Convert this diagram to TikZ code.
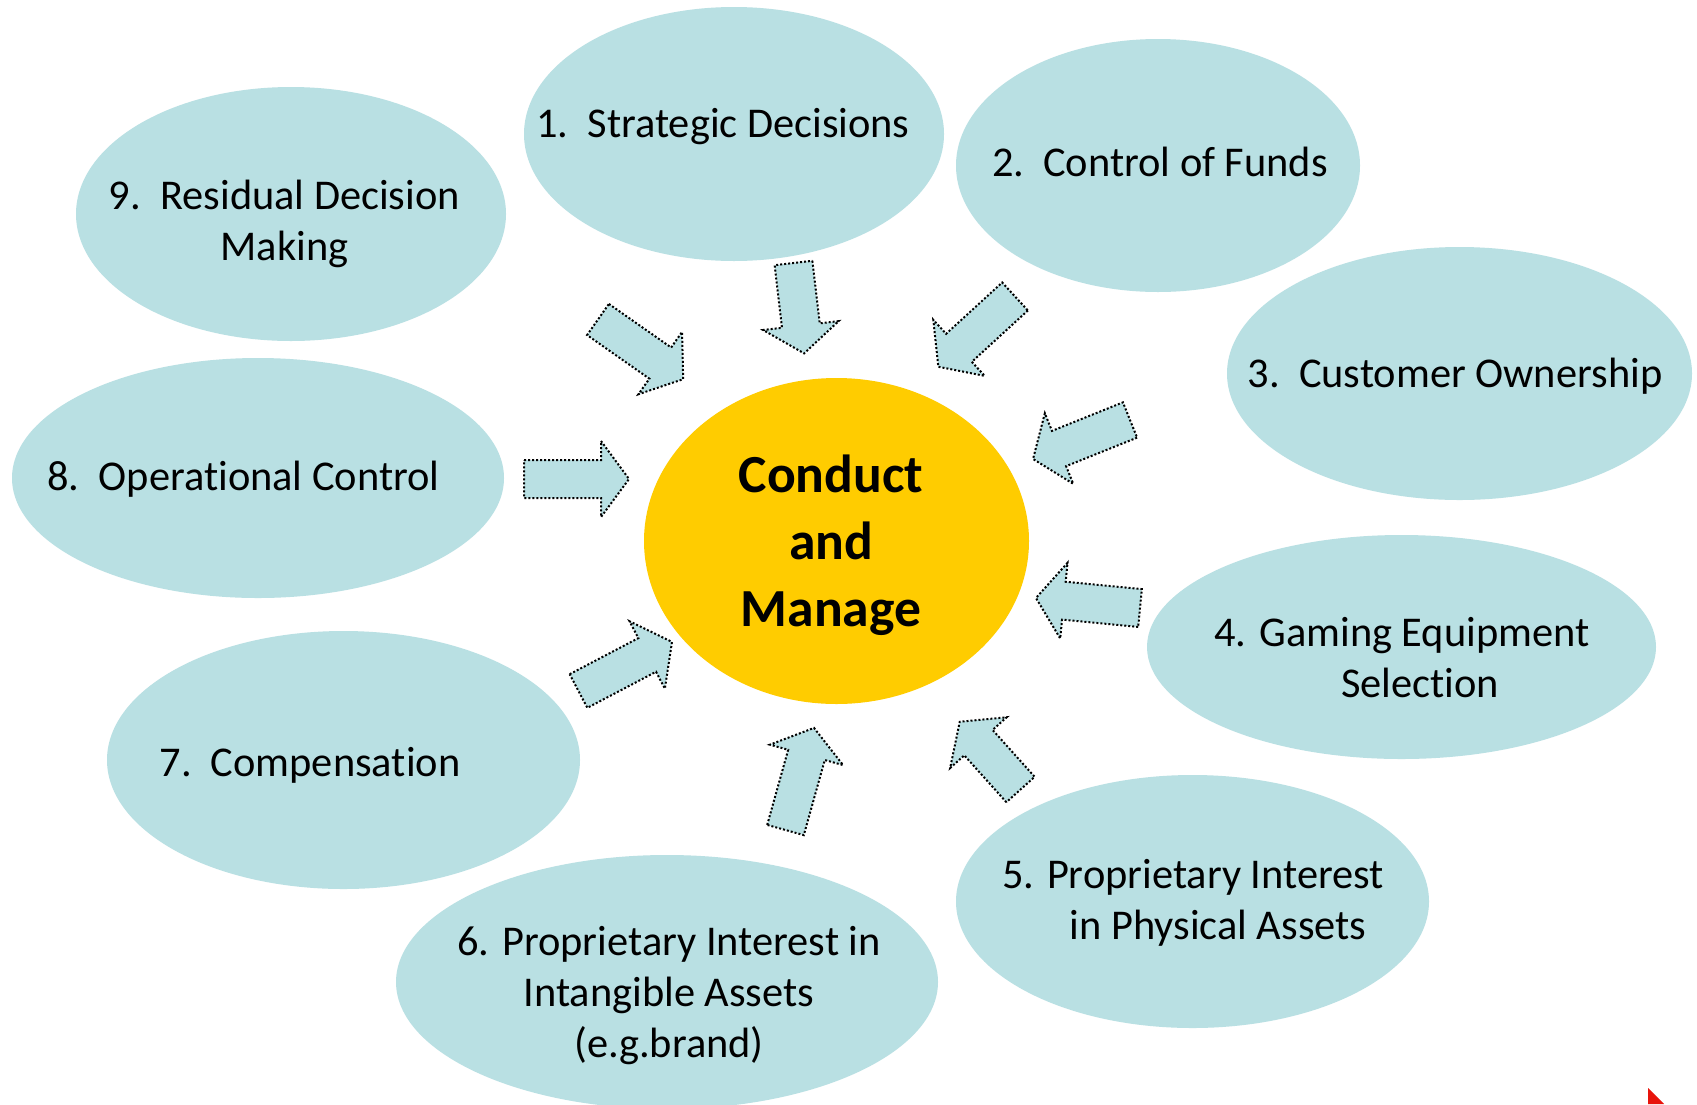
\documentclass[tikz,border=0pt]{standalone}
\usepackage{fontspec}
\setmainfont[RawFeature={-liga;-clig;-calt;-dlig}]{Carlito}
\usetikzlibrary{shapes.geometric}
\definecolor{BubbleTeal}{HTML}{B9E0E3}
\definecolor{CoreGold}{HTML}{FFCC00}
\definecolor{CornerRed}{HTML}{E8140C}

\begin{document}
\begin{tikzpicture}[x=0.5pt,y=-0.5pt,
    bubble/.style={ellipse,fill=BubbleTeal,inner sep=0pt},
    caption/.style={align=center,inner sep=0pt,text=black,
      font=\fontsize{21.2}{25.5}\selectfont},
    arrowline/.style={draw=black,fill=BubbleTeal,line width=1pt,
      dash pattern=on 1pt off 1pt},
    inarrow/.pic={
      \draw[arrowline] (0,-19) -- (#1-28,-19) -- (#1-28,-38) -- (#1,0)
        -- (#1-28,38) -- (#1-28,19) -- (0,19) -- cycle;
    }
  ]
  \clip (0,0) rectangle (1697,1104);
  \fill[white] (0,0) rectangle (1697,1104);

  % outer bubbles
  \node[bubble,minimum width=210pt,minimum height=127pt] (strategic) at (734,134) {};
  \node[bubble,minimum width=202pt,minimum height=126.5pt] (funds) at (1158,165.5) {};
  \node[bubble,minimum width=232.5pt,minimum height=126.5pt] (customer) at (1459.5,373.5) {};
  \node[bubble,minimum width=254.5pt,minimum height=112pt] (gaming) at (1401.5,647) {};
  \node[bubble,minimum width=236.5pt,minimum height=126.5pt] (physical) at (1192.5,901.5) {};
  \node[bubble,minimum width=271pt,minimum height=127pt] (intangible) at (667,982) {};
  \node[bubble,minimum width=236.5pt,minimum height=129pt] (compensation) at (343.5,760) {};
  \node[bubble,minimum width=246pt,minimum height=120pt] (operational) at (258,478) {};
  \node[bubble,minimum width=215pt,minimum height=127pt] (residual) at (291,214) {};

  \node[caption] (strategic-t) at (723,127) {1.\ \ Strategic Decisions};
  \node[caption] (funds-t) at (1160,162) {2.\ \ Control of Funds};
  \node[caption] (customer-t) at (1455,376) {3.\ \ Customer Ownership};
  \node[caption] (gaming-t) at (1402,658) {4. Gaming Equipment\\\hspace*{18pt}Selection};
  \node[caption] (physical-t) at (1193,903) {5. Proprietary Interest\\\hspace*{25pt}in Physical Assets};
  \node[caption] (intangible-t) at (669,996) {6. Proprietary Interest in\\Intangible Assets\\(e.g.brand)};
  \node[caption] (compensation-t) at (310,765) {7.\ \ Compensation};
  \node[caption] (operational-t) at (243.5,479) {8.\ \ Operational Control};
  \node[caption] (residual-t) at (284.5,224) {9.\ \ Residual Decision\\Making};

  % centre
  \node[ellipse,fill=CoreGold,inner sep=0pt,minimum width=192.5pt,minimum height=163pt] (core) at (836.5,541) {};
  \node[align=center,inner sep=0pt,font=\bfseries\fontsize{26.8}{33.5}\selectfont] (core-t) at (831,545) {Conduct\\and\\Manage};

  % block arrows: tail x/y, angle, length
  \foreach \tx/\ty/\ang/\len in {598/319.5/-35/104, 793.5/263/-83.3/91,
      1015/296.5/222.5/104, 1130/420/201.9/104.5, 1140/608/174.5/104.5,
      1020.5/789.5/131.9/91, 785.5/830/74.4/106, 578.5/691/27.7/105.6,
      524/479/0/105}
    \pic[rotate=\ang] at (\tx,\ty) {inarrow=\len};

  \fill[CornerRed] (1648,1088) -- (1664,1104) -- (1648,1104) -- cycle;
\end{tikzpicture}
\end{document}
